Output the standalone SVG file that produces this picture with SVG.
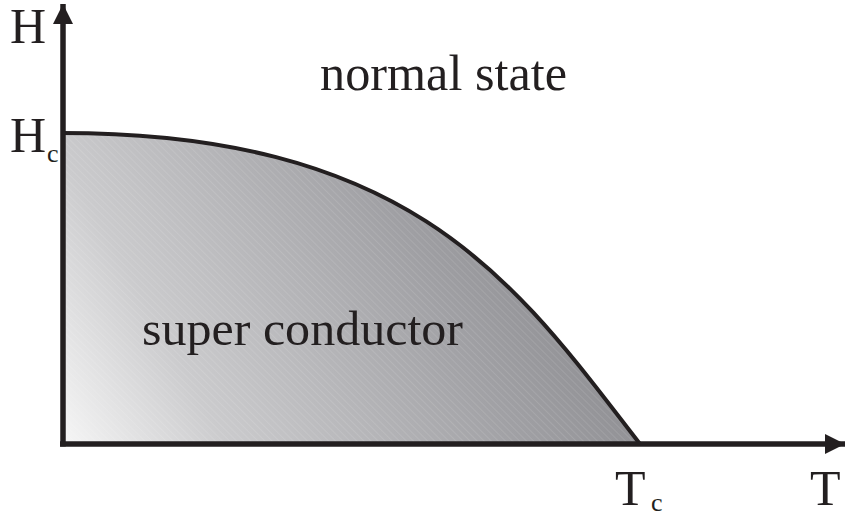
<svg xmlns="http://www.w3.org/2000/svg" width="845" height="516" viewBox="0 0 845 516">
  <defs>
    <linearGradient id="shade" gradientUnits="userSpaceOnUse" x1="62" y1="444" x2="560" y2="160">
      <stop offset="0" stop-color="#f6f6f6"/>
      <stop offset="0.25" stop-color="#cbcbcd"/>
      <stop offset="0.7" stop-color="#a0a0a4"/>
      <stop offset="1" stop-color="#88888c"/>
    </linearGradient>
    <pattern id="hatch" patternUnits="userSpaceOnUse" width="5" height="5" patternTransform="rotate(-45)">
      <line x1="0" y1="0" x2="0" y2="5" stroke="#ffffff" stroke-width="0.8" stroke-opacity="0.25"/>
    </pattern>
    <marker id="arrow" markerUnits="userSpaceOnUse" markerWidth="22" markerHeight="20" refX="20" refY="10" orient="auto">
      <path d="M0,0 L20,10 L0,20 Z" fill="#231f20"/>
    </marker>
  </defs>
  <style>
    .axis { stroke: #231f20; stroke-width: 5.5; fill: none; }
    .lbl { fill: #231f20; font-family: "Liberation Serif", "DejaVu Serif", serif; }
  </style>
  <g id="superconductor-region">
    <path d="M62,133 C420,133 520,290 640,444 L62,444 Z" fill="url(#shade)"/>
    <path d="M62,133 C420,133 520,290 640,444 L62,444 Z" fill="url(#hatch)"/>
    <text class="lbl" x="142" y="345" font-size="49" textLength="321" lengthAdjust="spacingAndGlyphs">super conductor</text>
  </g>
  <g id="normal-state">
    <text class="lbl" x="320" y="90" font-size="50" textLength="247" lengthAdjust="spacingAndGlyphs">normal state</text>
  </g>
  <g id="connectors">
    <path d="M62,133 C420,133 520,290 640,444" fill="none" stroke="#231f20" stroke-width="4"/>
    <line class="axis" x1="63" y1="446.5" x2="63" y2="4" marker-end="url(#arrow)"/>
    <line class="axis" x1="60" y1="444" x2="845" y2="444" marker-end="url(#arrow)"/>
  </g>
  <g id="labels">
    <text class="lbl" x="10" y="43" font-size="50">H</text>
    <text class="lbl" x="10" y="152" font-size="50">H</text>
    <text class="lbl" x="47" y="162" font-size="26">c</text>
    <text class="lbl" x="615" y="505" font-size="50">T</text>
    <text class="lbl" x="651" y="511" font-size="26">c</text>
    <text class="lbl" x="810" y="505" font-size="50">T</text>
  </g>
</svg>
